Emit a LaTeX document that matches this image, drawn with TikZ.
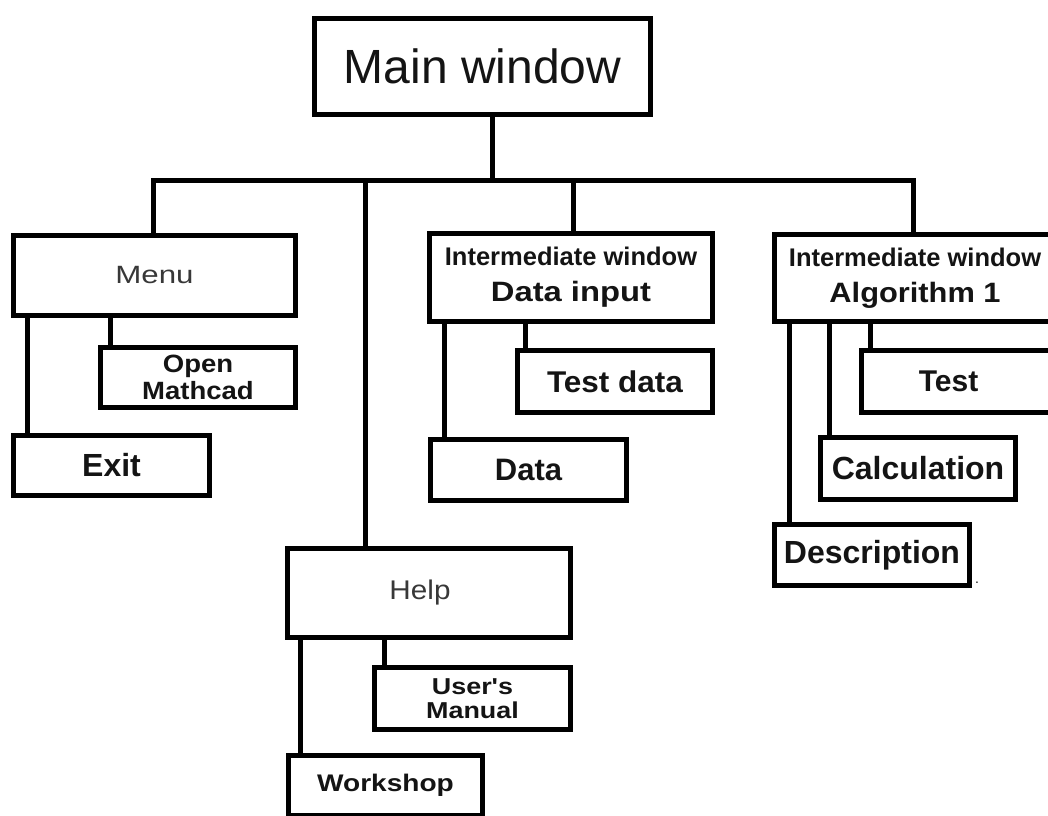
\documentclass[tikz,border=0pt]{standalone}
\usepackage{fontspec}
\setmainfont{Liberation Sans}
\newfontfamily\fsA{Liberation Sans}
\newfontfamily\fsB[FakeStretch=1.05]{Liberation Sans}
\newfontfamily\fsC[FakeStretch=1.1]{Liberation Sans}
\newfontfamily\fsD[FakeStretch=1.17]{Liberation Sans}
\newfontfamily\fsE[FakeStretch=1.25]{Liberation Sans}
\definecolor{ink}{gray}{0.08}
\definecolor{softink}{gray}{0.22}
\begin{document}
\begin{tikzpicture}[x=1pt,y=-1pt,
  box/.style={draw=black, line width=5pt, rectangle, inner sep=0pt, align=center, fill=white, text=ink},
  wire/.style={draw=black, line width=5pt},
  lbl/.style={inner sep=0pt, align=center, text=ink},
]
\fill[white] (0,0) rectangle (1048,815);
\useasboundingbox (0,0) rectangle (1048,815);
\begin{scope}
\clip (0,0) rectangle (1048,815);

% top
\node[box, minimum width=336pt, minimum height=96pt, font=\fsA\fontsize{48}{56}\selectfont] (main) at (482.5,66.5) {Main window};

% level 1
\node[box, minimum width=282pt, minimum height=80pt, text=softink, font=\fsE\fontsize{25}{30}\selectfont] (menu) at (154.5,275.5) {Menu};
\node[box, minimum width=283pt, minimum height=88pt, font=\fsA\bfseries\fontsize{25.5}{36}\selectfont] (datain) at (571,277.5)
  {{\fsA\bfseries\fontsize{25.5}{36}\selectfont Intermediate window}\\{\fsD\bfseries\fontsize{28}{36}\selectfont Data input}};
\node[box, minimum width=281pt, minimum height=87pt, font=\fsA\bfseries\fontsize{25.5}{36}\selectfont] (algo) at (915,278)
  {{\fsA\bfseries\fontsize{25.5}{36}\selectfont Intermediate window}\\{\fsC\bfseries\fontsize{28}{36}\selectfont Algorithm 1}};
\node[box, minimum width=283pt, minimum height=89pt] (help) at (429,593) {};
\node[lbl, text=softink, font=\fsC\fontsize{27}{30}\selectfont] (helplabel) at (420,593) {Help};

% menu children
\node[box, minimum width=195pt, minimum height=60pt, font=\fsC\bfseries\fontsize{25}{27}\selectfont] (open) at (198,377.5) {Open\\Mathcad};
\node[box, minimum width=196pt, minimum height=60pt, font=\fsA\bfseries\fontsize{32}{36}\selectfont] (exit) at (111.5,465.5) {Exit};

% data input children
\node[box, minimum width=195pt, minimum height=62pt, font=\fsB\bfseries\fontsize{30}{36}\selectfont] (testdata) at (615,381.5) {Test data};
\node[box, minimum width=196pt, minimum height=61pt, font=\fsA\bfseries\fontsize{31}{36}\selectfont] (data) at (528.5,470) {Data};

% algorithm children
\node[box, minimum width=206pt, minimum height=62pt] (test) at (964.5,381.5) {};
\node[lbl, font=\fsA\bfseries\fontsize{30}{36}\selectfont] (testlabel) at (948.5,381.5) {Test};
\node[box, minimum width=195pt, minimum height=62pt, font=\fsA\bfseries\fontsize{32}{36}\selectfont] (calc) at (918,468.5) {Calculation};
\node[box, minimum width=195pt, minimum height=61pt, font=\fsA\bfseries\fontsize{32}{36}\selectfont] (desc) at (872,555) {Description};
\node[lbl, font=\fsA\fontsize{14}{14}\selectfont] (dotmark) at (977,583) {.};

% help children
\node[box, minimum width=196pt, minimum height=62pt, font=\fsD\bfseries\fontsize{23}{24}\selectfont] (manual) at (472.5,698.5) {User's\\Manual};
\node[box, minimum width=194pt, minimum height=60pt, font=\fsD\bfseries\fontsize{24}{28}\selectfont] (workshop) at (385.5,785.5) {Workshop};

% bus coordinates
\coordinate (busL) at (153,180);
\coordinate (busH) at (365,180);
\coordinate (busM) at (492,180);
\coordinate (busD) at (573,180);
\coordinate (busR) at (913,180);

% connectors
\draw[wire] (busM |- main.south) -- (busM);
\draw[wire] (busL |- menu.north) -- (busL) -- (busR) -- (busR |- algo.north);
\draw[wire] (busH) -- (busH |- help.north);
\draw[wire] (busD) -- (busD |- datain.north);

\draw[wire] ([xshift=16.5pt]menu.south west) -- ([xshift=16.5pt]menu.south west |- exit.north);
\draw[wire] ([xshift=99.5pt]menu.south west) -- ([xshift=99.5pt]menu.south west |- open.north);

\draw[wire] ([xshift=17.5pt]datain.south west) -- ([xshift=17.5pt]datain.south west |- data.north);
\draw[wire] ([xshift=98.5pt]datain.south west) -- ([xshift=98.5pt]datain.south west |- testdata.north);

\draw[wire] ([xshift=17.5pt]algo.south west) -- ([xshift=17.5pt]algo.south west |- desc.north);
\draw[wire] ([xshift=57.5pt]algo.south west) -- ([xshift=57.5pt]algo.south west |- calc.north);
\draw[wire] ([xshift=98.5pt]algo.south west) -- ([xshift=98.5pt]algo.south west |- test.north);

\draw[wire] ([xshift=15.5pt]help.south west) -- ([xshift=15.5pt]help.south west |- workshop.north);
\draw[wire] ([xshift=99.5pt]help.south west) -- ([xshift=99.5pt]help.south west |- manual.north);
\end{scope}
\end{tikzpicture}
\end{document}
